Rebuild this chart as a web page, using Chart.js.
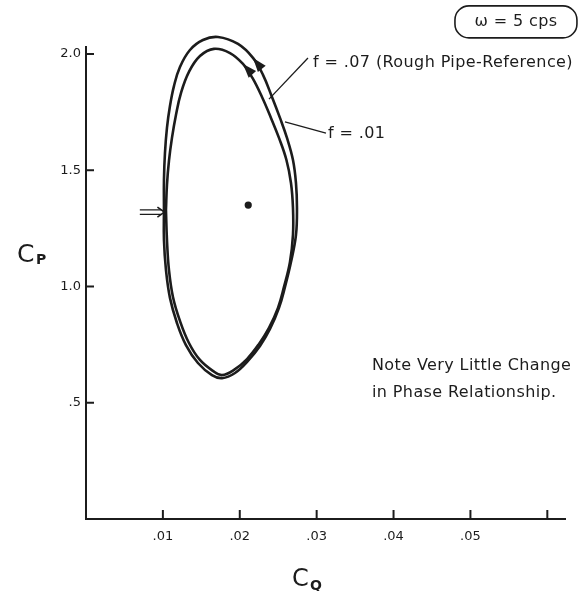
<!DOCTYPE html>
<html>
<head>
<meta charset="utf-8">
<script src="https://cdn.jsdelivr.net/npm/chart.js@4/dist/chart.umd.min.js"></script>
<style>
  html, body { margin: 0; padding: 0; background: #fff; }
  #wrap { width: 579px; height: 591px; }
</style>
</head>
<body>
<div id="wrap"><canvas id="c" width="579" height="591"></canvas></div>
<script>
// Phase loop, f = .07 (rough pipe reference), traversed counter-clockwise
const cqRough = [0.01014, 0.01014, 0.01040, 0.01092, 0.01183, 0.01300, 0.01456, 0.01638,
                 0.01769, 0.01938, 0.02107, 0.02263, 0.02393, 0.02510, 0.02588, 0.02666,
                 0.02731, 0.02744, 0.02731, 0.02692, 0.02614, 0.02523, 0.02419, 0.02302,
                 0.02172, 0.01977, 0.01717, 0.01521, 0.01352, 0.01222, 0.01144, 0.01092,
                 0.01053, 0.01027, 0.01014];
const cpRough = [1.329, 1.200, 1.071, 0.951, 0.843, 0.748, 0.671, 0.619,
                 0.606, 0.628, 0.680, 0.744, 0.817, 0.908, 0.998, 1.105,
                 1.222, 1.338, 1.445, 1.544, 1.639, 1.725, 1.815, 1.910,
                 1.983, 2.043, 2.073, 2.060, 2.017, 1.944, 1.862, 1.776,
                 1.682, 1.574, 1.458];

// Phase loop, f = .01
const cqSmooth = [0.01040, 0.01053, 0.01079, 0.01131, 0.01222, 0.01339, 0.01482, 0.01651,
                  0.01769, 0.01925, 0.02094, 0.02250, 0.02380, 0.02497, 0.02575, 0.02653,
                  0.02692, 0.02692, 0.02666, 0.02607, 0.02510, 0.02406, 0.02289, 0.02165,
                  0.02042, 0.01873, 0.01664, 0.01482, 0.01339, 0.01235, 0.01170, 0.01118,
                  0.01079, 0.01053];
const cpSmooth = [1.329, 1.200, 1.071, 0.955, 0.852, 0.757, 0.684, 0.637,
                  0.619, 0.641, 0.688, 0.753, 0.822, 0.908, 0.998, 1.105,
                  1.222, 1.338, 1.445, 1.544, 1.639, 1.725, 1.815, 1.897,
                  1.957, 2.004, 2.022, 1.991, 1.923, 1.832, 1.738, 1.639,
                  1.540, 1.437];

// Point on each loop where the flow-direction arrow sits
const arrowIndex = [24, 24];

// Mean operating point
const meanCq = [0.0211];
const meanCp = [1.350];

// Starting phase marker (double arrow), in CQ / CP units
const startArrowCq = [0.0070, 0.0102];
const startArrowCp = [1.32];

// Axis ticks
const xTicks = [0.01, 0.02, 0.03, 0.04, 0.05, 0.06];
const xTickLabels = ['.01', '.02', '.03', '.04', '.05', ''];
const yTicks = [0.5, 1.0, 1.5, 2.0];
const yTickLabels = ['.5', '1.0', '1.5', '2.0'];

// Text notes (anchor positions in CQ / CP units)
const labelRough = { text: 'f = .07 (Rough Pipe-Reference)', cq: 0.02952, cp: 1.961, lead: [0.02887, 1.983, 0.02380, 1.806] };
const labelSmooth = { text: 'f = .01', cq: 0.03147, cp: 1.656, lead: [0.03121, 1.660, 0.02588, 1.708] };
const noteLines = ['Note Very Little Change', 'in Phase Relationship.'];
const notePos = { cq: 0.03719, cp: [0.658, 0.542] };
const freqLabel = { text: 'ω = 5 cps', cq: 0.05592, cp: 2.138 };

const ink = '#1c1c1c';
const FONT = '"DejaVu Sans", "Open Sans", sans-serif';

const toPoints = (xs, ys) => {
  const pts = xs.map((v, i) => ({ x: v, y: ys[i] }));
  pts.push({ ...pts[0] });
  return pts;
};

const decorations = {
  id: 'decorations',
  afterDatasetsDraw(chart) {
    const { ctx, chartArea, scales: { x, y } } = chart;
    const X = v => x.getPixelForValue(v);
    const Y = v => y.getPixelForValue(v);
    ctx.save();
    ctx.strokeStyle = ink;
    ctx.fillStyle = ink;
    ctx.lineCap = 'butt';

    // tick marks pointing into the plot
    ctx.lineWidth = 2;
    xTicks.forEach(v => {
      ctx.beginPath();
      ctx.moveTo(X(v), chartArea.bottom);
      ctx.lineTo(X(v), chartArea.bottom - 9);
      ctx.stroke();
    });
    yTicks.forEach(v => {
      ctx.beginPath();
      ctx.moveTo(chartArea.left, Y(v));
      ctx.lineTo(chartArea.left + 8, Y(v));
      ctx.stroke();
    });

    // flow-direction arrowheads on each loop
    arrowIndex.forEach((idx, di) => {
      const pts = chart.getDatasetMeta(di).data;
      const p = pts[idx], a = pts[idx - 1], b = pts[idx + 1];
      let dx = b.x - a.x, dy = b.y - a.y;
      const len = Math.hypot(dx, dy);
      dx /= len; dy /= len;
      const L = 14, W = 5;
      const bx = p.x - dx * L, by = p.y - dy * L;
      ctx.beginPath();
      ctx.moveTo(p.x, p.y);
      ctx.lineTo(bx - dy * W, by + dx * W);
      ctx.lineTo(bx + dy * W, by - dx * W);
      ctx.closePath();
      ctx.fill();
    });

    // double arrow marking the starting phase
    const sx0 = X(startArrowCq[0]), sx1 = X(startArrowCq[1]), sy = Y(startArrowCp[0]);
    ctx.lineWidth = 1.3;
    ctx.beginPath();
    ctx.moveTo(sx0, sy - 2.2); ctx.lineTo(sx1 - 3, sy - 2.2);
    ctx.moveTo(sx0, sy + 2.2); ctx.lineTo(sx1 - 3, sy + 2.2);
    ctx.stroke();
    ctx.lineWidth = 1.6;
    ctx.beginPath();
    ctx.moveTo(sx1 - 7, sy - 5); ctx.lineTo(sx1, sy); ctx.lineTo(sx1 - 7, sy + 5);
    ctx.stroke();

    // leader lines
    ctx.lineWidth = 1.3;
    [labelRough, labelSmooth].forEach(l => {
      ctx.beginPath();
      ctx.moveTo(X(l.lead[0]), Y(l.lead[1]));
      ctx.lineTo(X(l.lead[2]), Y(l.lead[3]));
      ctx.stroke();
    });

    // labels
    ctx.textBaseline = 'middle';
    ctx.textAlign = 'left';
    ctx.letterSpacing = '0.4px';
    ctx.font = `16px ${FONT}`;
    ctx.fillText(labelRough.text, X(labelRough.cq), Y(labelRough.cp));
    ctx.fillText(labelSmooth.text, X(labelSmooth.cq), Y(labelSmooth.cp));
    noteLines.forEach((t, i) => ctx.fillText(t, X(notePos.cq), Y(notePos.cp[i])));

    // frequency tag in a rounded box
    const fx = X(freqLabel.cq), fy = Y(freqLabel.cp);
    ctx.textAlign = 'center';
    ctx.font = `16px ${FONT}`;
    ctx.fillText(freqLabel.text, fx, fy);
    ctx.letterSpacing = '0px';
    ctx.lineWidth = 1.6;
    ctx.beginPath();
    ctx.roundRect(fx - 61, fy - 16, 122, 32, 14);
    ctx.stroke();

    // axis titles with subscripts
    ctx.textAlign = 'left';
    ctx.textBaseline = 'alphabetic';
    ctx.font = `25px ${FONT}`;
    ctx.fillText('C', 17, 262);
    ctx.font = `bold 14px ${FONT}`;
    ctx.fillText('P', 36, 264);
    ctx.font = `24px ${FONT}`;
    ctx.fillText('C', 292, 586);
    ctx.font = `bold 14px ${FONT}`;
    ctx.fillText('Q', 310, 590);

    ctx.restore();
  }
};

new Chart(document.getElementById('c'), {
  type: 'scatter',
  data: {
    datasets: [
      {
        label: 'f = .07',
        data: toPoints(cqRough, cpRough),
        showLine: true, tension: 0.4, clip: false,
        borderColor: ink, borderWidth: 2.6,
        pointRadius: 0, fill: false
      },
      {
        label: 'f = .01',
        data: toPoints(cqSmooth, cpSmooth),
        showLine: true, tension: 0.4, clip: false,
        borderColor: ink, borderWidth: 2.6,
        pointRadius: 0, fill: false
      },
      {
        label: 'mean',
        data: meanCq.map((v, i) => ({ x: v, y: meanCp[i] })),
        pointRadius: 3.6, pointBackgroundColor: ink, pointBorderWidth: 0
      }
    ]
  },
  options: {
    responsive: false,
    animation: false,
    devicePixelRatio: 1,
    layout: { padding: { top: 47, right: 14, left: 0, bottom: 0 } },
    elements: { line: { capBezierPoints: false } },
    plugins: { legend: { display: false }, tooltip: { enabled: false } },
    scales: {
      x: {
        type: 'linear', min: 0, max: 0.0623,
        afterFit: s => { s.height = 72; },
        afterBuildTicks: s => { s.ticks = xTicks.map(v => ({ value: v })); },
        grid: { display: true, drawOnChartArea: false, drawTicks: false },
        border: { display: true, color: ink, width: 2 },
        ticks: {
          padding: 10, color: ink,
          font: { family: FONT, size: 13 },
          callback: (v, i) => xTickLabels[i]
        }
      },
      y: {
        type: 'linear', min: 0, max: 2.03,
        afterFit: s => { s.width = 86; },
        afterBuildTicks: s => { s.ticks = yTicks.map(v => ({ value: v })); },
        grid: { display: true, drawOnChartArea: false, drawTicks: false },
        border: { display: true, color: ink, width: 2 },
        ticks: {
          padding: 5, color: ink,
          font: { family: FONT, size: 13 },
          callback: (v, i) => yTickLabels[i]
        }
      }
    }
  },
  plugins: [decorations]
});
</script>
</body>
</html>
